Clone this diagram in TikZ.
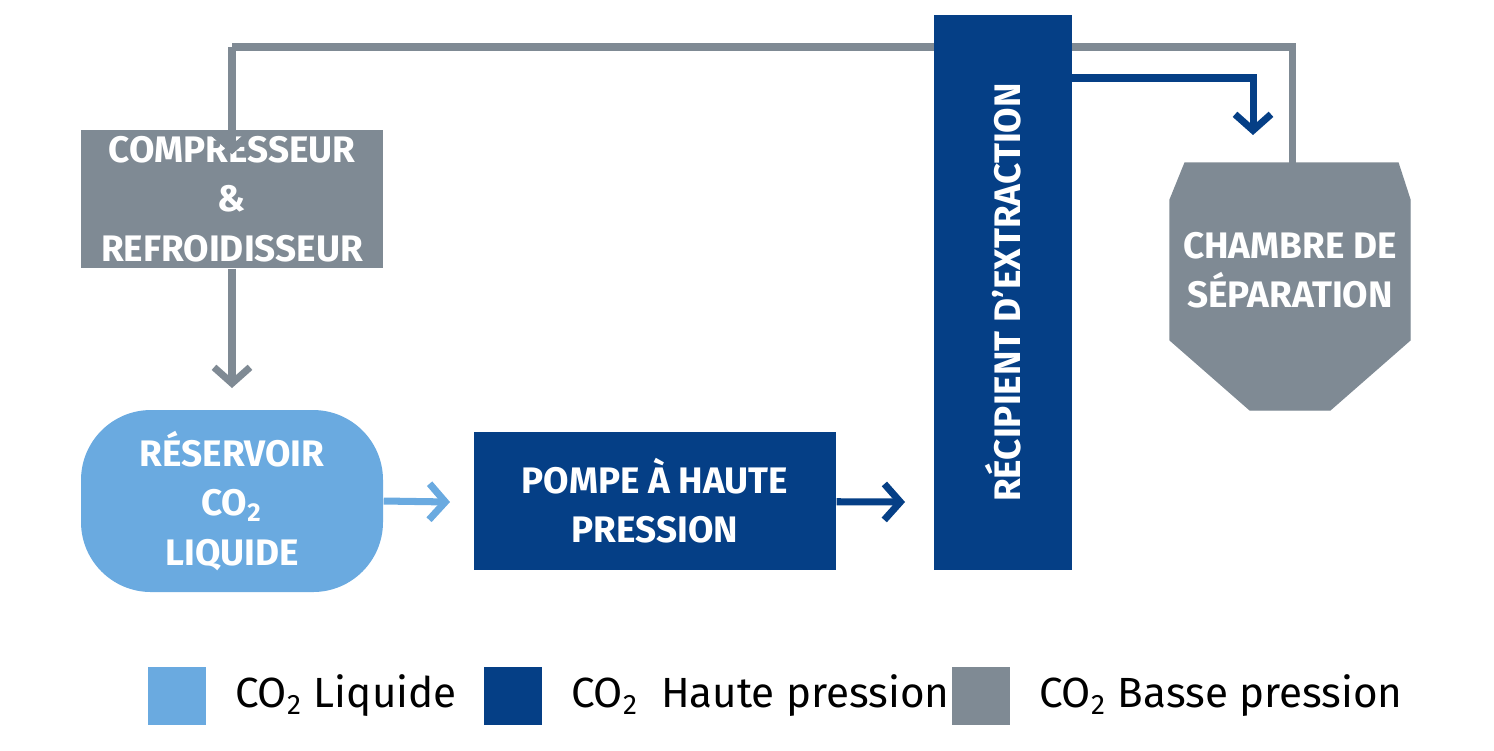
\documentclass[tikz,border=0pt]{standalone}
\usepackage{fontspec}
\setmainfont{Fira Sans}
\usepackage{tikz}
\usetikzlibrary{positioning, arrows.meta}
\definecolor{liq}{HTML}{6AAAE0}
\definecolor{hp}{HTML}{053F86}
\definecolor{bp}{HTML}{7F8A94}
\tikzset{Block/.style={rectangle, inner sep=0pt, align=center, text=white, font=\fontsize{10.5}{14}\selectfont\bfseries}}
\tikzset{Block Edge/.style={draw, line width=2pt, -{Straight Barb[length=1.6mm, width=3.6mm, line width=2pt]}}}
\tikzset{Key/.style={rectangle, minimum width=5.8mm, minimum height=5.8mm, inner sep=0pt}}
\tikzset{Key Text/.style={right=1.6mm, font=\fontsize{12}{14}\selectfont}}
\newcommand{\cotwo}{CO\textsubscript{2}}
\begin{document}
\begin{tikzpicture}[x=1mm, y=-1mm]
  \useasboundingbox (0,0) rectangle (149.4,75);
  % low-pressure return line (behind the vessel)
  \coordinate (top) at (129.2,4.7);
  \coordinate (ret) at (23.2,4.7);
  \node[Block, fill=bp, minimum width=30.2mm, minimum height=13.8mm] (comp) at (23.2,19.9) {COMPRESSEUR\\\&\\REFROIDISSEUR};
  \node[Block, fill=liq, rounded corners=7mm, minimum width=30.2mm, minimum height=18.2mm] (tank) at (23.2,50.1) {RÉSERVOIR\\\cotwo\\LIQUIDE};
  \node[Block, fill=hp, minimum width=36.2mm, minimum height=13.8mm] (pump) at (65.5,50.1) {POMPE À HAUTE\\PRESSION};
  \draw[bp, line width=2pt] (129.2,16.3) -- (top) -- (ret);
  \draw[Block Edge, bp] (ret) -- ([yshift=-2.5mm]comp.north);
  \node[Block, fill=hp, minimum width=13.8mm, minimum height=55.5mm] (vessel) at (100.3,29.25) {};
  \node[Block, rotate=90] at (vessel) {RÉCIPIENT D’EXTRACTION};
  % separation chamber
  \filldraw[bp] (118.5,16.3) -- (139.8,16.3) -- (141,20) -- (141,34) -- (133,41) -- (125,41) -- (117,34) -- (117,20) -- cycle;
  \node[Block] (sep) at (129,27) {CHAMBRE DE\\SÉPARATION};
  \coordinate (vout) at (107.2,7.8);
  \coordinate (sin) at (125.3,7.8);
  \draw[Block Edge, hp] (vout) -- (sin) -- (125.3,13.5);
  \draw[Block Edge, bp] (comp) -- (23.2,38.8);
  \draw[Block Edge, liq] (tank.east |- pump) -- (45,50.2);
  \draw[Block Edge, hp] (pump) -- (90.5,50.2);
  % legend
  \node[Key, fill=liq] (k1) at (17.7,69.6) {};
  \node[Key Text] at (k1.east) [anchor=west] {\cotwo\ Liquide};
  \node[Key, fill=hp] (k2) at (51.3,69.6) {};
  \node[Key Text] at (k2.east) [anchor=west] {\cotwo\ \ Haute pression};
  \node[Key, fill=bp] (k3) at (98.1,69.6) {};
  \node[Key Text] at (k3.east) [anchor=west] {\cotwo\ Basse pression};
\end{tikzpicture}
\end{document}
